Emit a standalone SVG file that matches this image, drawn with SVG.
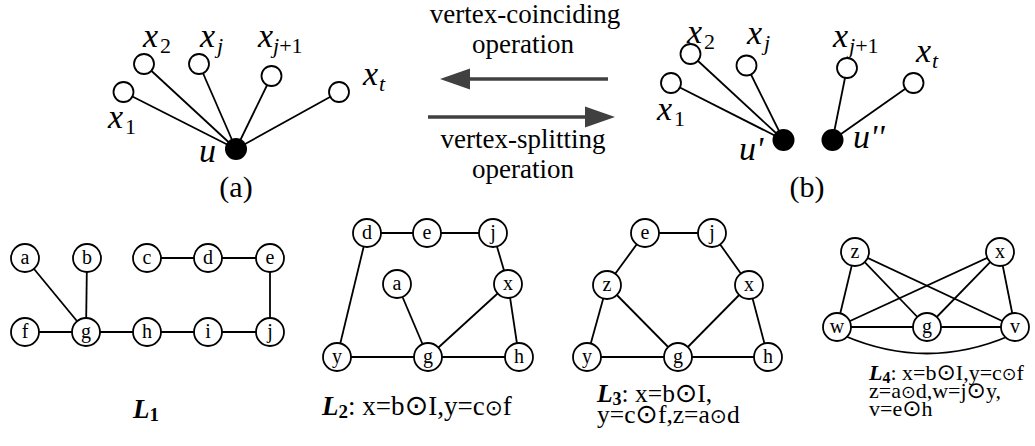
<svg xmlns="http://www.w3.org/2000/svg" width="1035" height="446" viewBox="0 0 1035 446" font-family="'Liberation Serif','Times New Roman',serif">
<style>
text{font-family:"Liberation Serif","Times New Roman",serif;fill:#000}
.var{font-family:"Liberation Serif",serif;font-size:34px;font-style:italic}
.sub{font-family:"Liberation Serif",serif;font-size:22px}
.subi{font-family:"Liberation Serif",serif;font-size:22px;font-style:italic}
.cap{font-family:"Liberation Serif",serif;font-size:30px}
.op{font-family:"Liberation Serif",serif;font-size:27px;text-anchor:middle}
.nl{font-family:"Liberation Serif",serif;font-size:20px;text-anchor:middle}
.lab{font-family:"Liberation Serif",serif;font-size:27px}
.lab3{font-family:"Liberation Serif",serif;font-size:25.5px}
.lab4{font-family:"Liberation Serif",serif;font-size:22px}
.L{font-weight:bold;font-style:italic}
.Ls{font-weight:bold}
.ob{font-family:"DejaVu Sans",sans-serif;font-size:1.05em}
.os{font-family:"DejaVu Sans",sans-serif;font-size:0.8em}
.e line,.e path{stroke:#000;stroke-width:1.8;fill:none}
.v circle{fill:#fff;stroke:#000;stroke-width:1.8}
.n circle{fill:#fff;stroke:#000;stroke-width:1.8}
.arr{stroke:#404040;stroke-width:3.5}
.ah{fill:#404040}
</style>

<!-- (a) -->
<g id="connectors-a" class="e">
<line x1="123.5" y1="92" x2="236" y2="149"/>
<line x1="144" y1="64" x2="236" y2="149"/>
<line x1="199" y1="64" x2="236" y2="149"/>
<line x1="271.5" y1="76" x2="236" y2="149"/>
<line x1="339" y1="92" x2="236" y2="149"/>
</g>
<g id="a-x1" class="v"><circle cx="123.5" cy="92" r="10"/><text class="var" x="108" y="128">x</text><text class="sub" x="125" y="134">1</text></g>
<g id="a-x2" class="v"><circle cx="144" cy="64" r="10"/><text class="var" x="143" y="47">x</text><text class="sub" x="160" y="53">2</text></g>
<g id="a-xj" class="v"><circle cx="199" cy="64" r="10"/><text class="var" x="200" y="47">x</text><text class="subi" x="217" y="53">j</text></g>
<g id="a-xj1" class="v"><circle cx="271.5" cy="76" r="10"/><text class="var" x="258" y="47">x</text><text class="sub" x="273" y="53"><tspan font-style="italic">j</tspan>+1</text></g>
<g id="a-xt" class="v"><circle cx="339" cy="92" r="10"/><text class="var" x="363" y="85">x</text><text class="subi" x="379" y="91">t</text></g>
<g id="a-u"><circle cx="236" cy="149" r="11" fill="#000"/><text class="var" x="199" y="162">u</text></g>
<text class="cap" x="236" y="197" text-anchor="middle">(a)</text>

<!-- operations -->
<g id="ops">
<text class="op" x="525" y="23">vertex-coinciding</text>
<text class="op" x="523" y="53">operation</text>
<line class="arr" x1="608" y1="79" x2="466" y2="79"/>
<polygon class="ah" points="440,79 470,68.5 470,89.5"/>
<line class="arr" x1="428" y1="117" x2="589" y2="117"/>
<polygon class="ah" points="615,117 585,106.5 585,127.5"/>
<text class="op" x="523" y="148">vertex-splitting</text>
<text class="op" x="523" y="178">operation</text>
</g>

<!-- (b) -->
<g id="connectors-b" class="e">
<line x1="671" y1="83" x2="783.5" y2="140"/>
<line x1="690.5" y1="54" x2="783.5" y2="140"/>
<line x1="746.5" y1="65.5" x2="783.5" y2="140"/>
<line x1="847" y1="68" x2="832.5" y2="140"/>
<line x1="913.5" y1="83" x2="832.5" y2="140"/>
</g>
<g id="b-x1" class="v"><circle cx="671" cy="83" r="10"/><text class="var" x="657" y="120">x</text><text class="sub" x="674" y="126">1</text></g>
<g id="b-x2" class="v"><circle cx="690.5" cy="54" r="10"/><text class="var" x="687" y="43">x</text><text class="sub" x="704" y="49">2</text></g>
<g id="b-xj" class="v"><circle cx="746.5" cy="65.5" r="10"/><text class="var" x="747" y="44">x</text><text class="subi" x="764" y="50">j</text></g>
<g id="b-xj1" class="v"><circle cx="847" cy="68" r="10"/><text class="var" x="833" y="47">x</text><text class="sub" x="849" y="53"><tspan font-style="italic">j</tspan>+1</text></g>
<g id="b-xt" class="v"><circle cx="913.5" cy="83" r="10"/><text class="var" x="916" y="62">x</text><text class="subi" x="932" y="68">t</text></g>
<g id="b-u1"><circle cx="783.5" cy="140" r="11" fill="#000"/><text class="var" x="739" y="160">u'</text></g>
<g id="b-u2"><circle cx="832.5" cy="140" r="11" fill="#000"/><text class="var" x="853" y="148">u''</text></g>
<text class="cap" x="807" y="197" text-anchor="middle">(b)</text>

<!-- L1 -->
<g id="connectors-L1" class="e">
<line x1="25" y1="258" x2="86" y2="332"/>
<line x1="87" y1="258" x2="86" y2="332"/>
<line x1="147" y1="258" x2="270" y2="258"/>
<line x1="270" y1="258" x2="270" y2="332"/>
<line x1="25" y1="332" x2="270" y2="332"/>
</g>
<g class="n">
<g id="L1-a"><circle cx="25" cy="258" r="14"/><text class="nl" x="25" y="264">a</text></g>
<g id="L1-b"><circle cx="87" cy="258" r="14"/><text class="nl" x="87" y="264">b</text></g>
<g id="L1-c"><circle cx="147" cy="258" r="14"/><text class="nl" x="147" y="264">c</text></g>
<g id="L1-d"><circle cx="208" cy="258" r="14"/><text class="nl" x="208" y="264">d</text></g>
<g id="L1-e"><circle cx="270" cy="258" r="14"/><text class="nl" x="270" y="264">e</text></g>
<g id="L1-f"><circle cx="25" cy="332" r="14"/><text class="nl" x="25" y="338">f</text></g>
<g id="L1-g"><circle cx="86" cy="332" r="14"/><text class="nl" x="86" y="338">g</text></g>
<g id="L1-h"><circle cx="147" cy="332" r="14"/><text class="nl" x="147" y="338">h</text></g>
<g id="L1-i"><circle cx="208" cy="332" r="14"/><text class="nl" x="208" y="338">i</text></g>
<g id="L1-j"><circle cx="270" cy="332" r="14"/><text class="nl" x="270" y="338">j</text></g>
</g>
<text class="lab" x="133" y="418"><tspan class="L">L</tspan><tspan class="Ls" font-size="19" dy="3">1</tspan></text>

<!-- L2 -->
<g id="connectors-L2" class="e">
<line x1="367" y1="233" x2="493" y2="233"/>
<line x1="493" y1="233" x2="508" y2="284"/>
<line x1="367" y1="233" x2="337" y2="357"/>
<line x1="397" y1="284" x2="428" y2="357"/>
<line x1="508" y1="284" x2="428" y2="357"/>
<line x1="508" y1="284" x2="519" y2="357"/>
<line x1="337" y1="357" x2="519" y2="357"/>
</g>
<g class="n">
<g id="L2-d"><circle cx="367" cy="233" r="14"/><text class="nl" x="367" y="239">d</text></g>
<g id="L2-e"><circle cx="427" cy="233" r="14"/><text class="nl" x="427" y="239">e</text></g>
<g id="L2-j"><circle cx="493" cy="233" r="14"/><text class="nl" x="493" y="239">j</text></g>
<g id="L2-a"><circle cx="397" cy="284" r="14"/><text class="nl" x="397" y="290">a</text></g>
<g id="L2-x"><circle cx="508" cy="284" r="14"/><text class="nl" x="508" y="290">x</text></g>
<g id="L2-y"><circle cx="337" cy="357" r="14"/><text class="nl" x="337" y="363">y</text></g>
<g id="L2-g"><circle cx="428" cy="357" r="14"/><text class="nl" x="428" y="363">g</text></g>
<g id="L2-h"><circle cx="519" cy="357" r="14"/><text class="nl" x="519" y="363">h</text></g>
</g>
<text class="lab" x="322" y="415"><tspan class="L">L</tspan><tspan class="Ls" font-size="19" dy="3">2</tspan><tspan dy="-3">: x=b</tspan><tspan class="ob">⊙</tspan>I,y=c<tspan class="os">⊙</tspan>f</text>

<!-- L3 -->
<g id="connectors-L3" class="e">
<line x1="645" y1="233" x2="712" y2="233"/>
<line x1="645" y1="233" x2="607" y2="285"/>
<line x1="712" y1="233" x2="749" y2="285"/>
<line x1="607" y1="285" x2="587" y2="357"/>
<line x1="607" y1="285" x2="678" y2="357"/>
<line x1="749" y1="285" x2="678" y2="357"/>
<line x1="749" y1="285" x2="768" y2="357"/>
<line x1="587" y1="357" x2="768" y2="357"/>
</g>
<g class="n">
<g id="L3-e"><circle cx="645" cy="233" r="14"/><text class="nl" x="645" y="239">e</text></g>
<g id="L3-j"><circle cx="712" cy="233" r="14"/><text class="nl" x="712" y="239">j</text></g>
<g id="L3-z"><circle cx="607" cy="285" r="14"/><text class="nl" x="607" y="291">z</text></g>
<g id="L3-x"><circle cx="749" cy="285" r="14"/><text class="nl" x="749" y="291">x</text></g>
<g id="L3-y"><circle cx="587" cy="357" r="14"/><text class="nl" x="587" y="363">y</text></g>
<g id="L3-g"><circle cx="678" cy="357" r="14"/><text class="nl" x="678" y="363">g</text></g>
<g id="L3-h"><circle cx="768" cy="357" r="14"/><text class="nl" x="768" y="363">h</text></g>
</g>
<text class="lab3" x="597" y="402"><tspan class="L">L</tspan><tspan class="Ls" font-size="18" dy="3">3</tspan><tspan dy="-3">: x=b</tspan><tspan class="ob">⊙</tspan>I,</text>
<text class="lab3" x="597" y="423">y=c<tspan class="ob">⊙</tspan>f,z=a<tspan class="os">⊙</tspan>d</text>

<!-- L4 -->
<g id="connectors-L4" class="e">
<line x1="855" y1="252" x2="837" y2="327"/>
<line x1="855" y1="252" x2="927" y2="327"/>
<line x1="855" y1="252" x2="1015" y2="327"/>
<line x1="1000" y1="252" x2="837" y2="327"/>
<line x1="1000" y1="252" x2="927" y2="327"/>
<line x1="1000" y1="252" x2="1015" y2="327"/>
<line x1="837" y1="327" x2="1015" y2="327"/>
<path d="M845 336 Q927 371 1009 336"/>
</g>
<g class="n">
<g id="L4-z"><circle cx="855" cy="252" r="14"/><text class="nl" x="855" y="258">z</text></g>
<g id="L4-x"><circle cx="1000" cy="252" r="14"/><text class="nl" x="1000" y="258">x</text></g>
<g id="L4-w"><circle cx="837" cy="327" r="14"/><text class="nl" x="837" y="333">w</text></g>
<g id="L4-g"><circle cx="927" cy="327" r="14"/><text class="nl" x="927" y="333">g</text></g>
<g id="L4-v"><circle cx="1015" cy="327" r="14"/><text class="nl" x="1015" y="333">v</text></g>
</g>
<text class="lab4" x="869" y="380"><tspan class="L">L</tspan><tspan class="Ls" font-size="16" dy="3">4</tspan><tspan dy="-3">: x=b</tspan><tspan class="ob">⊙</tspan>I,y=c<tspan class="os">⊙</tspan>f</text>
<text class="lab4" x="869" y="398">z=a<tspan class="os">⊙</tspan>d,w=j<tspan class="ob">⊙</tspan>y,</text>
<text class="lab4" x="869" y="416">v=e<tspan class="ob">⊙</tspan>h</text>
</svg>
